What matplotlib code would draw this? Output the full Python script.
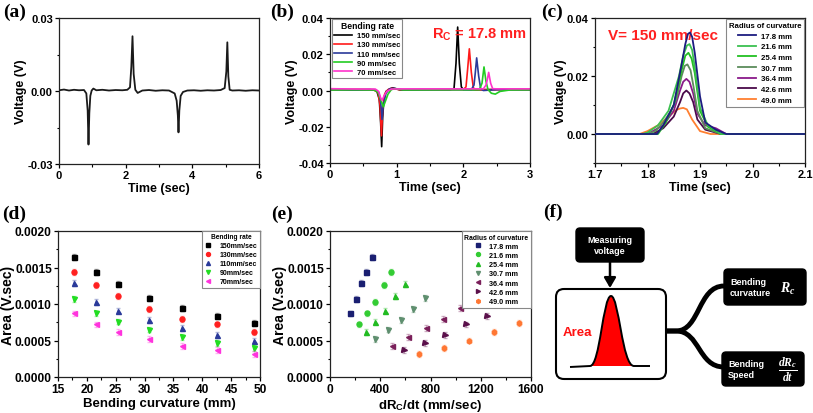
import matplotlib
matplotlib.use("Agg")
import matplotlib.pyplot as plt
from matplotlib.ticker import MultipleLocator, FormatStrFormatter
from matplotlib.patches import FancyBboxPatch, PathPatch
from matplotlib.path import Path

plt.rcParams['font.family'] = ['Liberation Sans', 'DejaVu Sans']
plt.rcParams['font.weight'] = 'bold'
plt.rcParams['mathtext.fontset'] = 'custom'
plt.rcParams['mathtext.rm'] = 'Liberation Sans'
plt.rcParams['mathtext.it'] = 'Liberation Serif:italic'
plt.rcParams['mathtext.bf'] = 'Liberation Sans:bold'

# ---------------- data ----------------
# (a) single voltage trace
ta = [0.00, 0.15, 0.30, 0.45, 0.60, 0.75, 0.82, 0.86, 0.885, 0.91, 0.94, 0.98, 1.03, 1.12, 1.30, 1.50,
      1.70, 1.90, 2.05, 2.13, 2.17, 2.205, 2.24, 2.29, 2.36, 2.50, 2.70, 2.90, 3.10, 3.30, 3.47, 3.53,
      3.565, 3.585, 3.61, 3.65, 3.72, 3.85, 4.05, 4.25, 4.45, 4.65, 4.85, 4.97, 5.02, 5.05, 5.08, 5.12,
      5.20, 5.40, 5.60, 5.80, 6.00]
va = [0.0003, 0.0006, 0.0002, 0.0005, 0.0003, 0.0004, -0.0010, -0.0080, -0.0220, -0.0090, -0.0020, 0.0002,
      0.0010, 0.0003, 0.0005, 0.0002, 0.0004, 0.0003, 0.0005, 0.0015, 0.0100, 0.0225, 0.0070, 0.0005,
      -0.0008, 0.0002, 0.0004, 0.0001, 0.0003, 0.0002, -0.0010, -0.0040, -0.0100, -0.0170, -0.0080,
      -0.0020, -0.0004, 0.0002, 0.0003, 0.0001, 0.0003, 0.0002, 0.0004, 0.0012, 0.0080, 0.0200, 0.0060,
      0.0005, 0.0002, 0.0003, 0.0001, 0.0003, 0.0002]

# (b) bending-rate traces, Rc = 17.8 mm
rates_b = ['150 mm/sec', '130 mm/sec', '110 mm/sec', '90 mm/sec', '70 mm/sec']
tb_150 = [0.00, 0.30, 0.60, 0.70, 0.74, 0.76, 0.775, 0.79, 0.81, 0.84, 0.90, 0.94, 1.05, 1.40, 1.80, 1.86,
          1.89, 1.915, 1.94, 1.97, 2.00, 2.20, 2.60, 3.00]
vb_150 = [0.0006, 0.0004, 0.0005, 0.0000, -0.0050, -0.0180, -0.0310, -0.0150, -0.0040, -0.0005, 0.0010,
          0.0015, 0.0003, 0.0005, 0.0005, 0.0010, 0.0150, 0.0350, 0.0150, 0.0020, 0.0005, 0.0004, 0.0006,
          0.0005]
tb_130 = [0.00, 0.40, 0.65, 0.72, 0.75, 0.772, 0.79, 0.82, 0.87, 0.93, 1.05, 1.60, 2.00, 2.04, 2.065, 2.09,
          2.12, 2.15, 2.18, 2.40, 3.00]
vb_130 = [0.0005, 0.0006, 0.0004, -0.0010, -0.0080, -0.0250, -0.0100, -0.0020, 0.0005, 0.0012, 0.0004,
          0.0005, 0.0005, 0.0020, 0.0120, 0.0230, 0.0100, 0.0015, 0.0005, 0.0005, 0.0005]
tb_110 = [0.00, 0.40, 0.66, 0.73, 0.76, 0.78, 0.80, 0.84, 0.89, 0.95, 1.10, 1.70, 2.12, 2.16, 2.18, 2.20,
          2.23, 2.26, 2.30, 2.50, 3.00]
vb_110 = [0.0005, 0.0004, 0.0005, -0.0010, -0.0060, -0.0160, -0.0080, -0.0015, 0.0008, 0.0012, 0.0004,
          0.0005, 0.0005, 0.0030, 0.0100, 0.0180, 0.0080, 0.0010, 0.0000, 0.0005, 0.0005]
tb_90 = [0.00, 0.40, 0.66, 0.72, 0.76, 0.80, 0.83, 0.87, 0.92, 0.98, 1.10, 1.80, 2.24, 2.28, 2.31, 2.34,
         2.37, 2.42, 2.48, 2.55, 2.70, 3.00]
vb_90 = [0.0003, 0.0004, 0.0003, -0.0010, -0.0050, -0.0090, -0.0060, -0.0020, 0.0005, 0.0010, 0.0003,
         0.0004, 0.0004, 0.0040, 0.0130, 0.0050, 0.0005, -0.0015, -0.0020, -0.0005, 0.0003, 0.0004]
tb_70 = [0.00, 0.40, 0.68, 0.73, 0.76, 0.78, 0.81, 0.85, 0.92, 1.10, 1.90, 2.30, 2.34, 2.36, 2.38, 2.41,
         2.44, 2.50, 3.00]
vb_70 = [0.0010, 0.0008, 0.0008, -0.0005, -0.0040, -0.0055, -0.0030, -0.0005, 0.0008, 0.0009, 0.0009,
         0.0009, 0.0030, 0.0060, 0.0100, 0.0040, 0.0010, 0.0009, 0.0009]

# (c) radius-of-curvature traces, V = 150 mm/sec
radii_c = ['17.8 mm', '21.6 mm', '25.4 mm', '30.7 mm', '36.4 mm', '42.6 mm', '49.0 mm']
tc_178 = [1.70, 1.80, 1.818, 1.83, 1.85, 1.865, 1.872, 1.877, 1.881, 1.885, 1.89, 1.90, 1.91, 1.93, 1.95, 2.10]
vc_178 = [0, 0, 0, 0.003, 0.010, 0.024, 0.031, 0.0345, 0.035, 0.0335, 0.028, 0.013, 0.004, 0.0015, 0, 0]
tc_216 = [1.70, 1.79, 1.80, 1.82, 1.84, 1.86, 1.868, 1.875, 1.880, 1.885, 1.89, 1.90, 1.915, 1.94, 2.10]
vc_216 = [0, 0, 0.0005, 0.003, 0.008, 0.020, 0.027, 0.0305, 0.031, 0.029, 0.023, 0.009, 0.003, 0, 0]
tc_254 = [1.70, 1.81, 1.82, 1.835, 1.85, 1.865, 1.872, 1.878, 1.884, 1.89, 1.90, 1.915, 1.94, 2.10]
vc_254 = [0, 0, 0, 0.004, 0.010, 0.022, 0.027, 0.028, 0.026, 0.021, 0.008, 0.0025, 0, 0]
tc_307 = [1.70, 1.80, 1.815, 1.83, 1.845, 1.855, 1.865, 1.871, 1.876, 1.882, 1.888, 1.895, 1.91, 1.94, 2.10]
vc_307 = [0, 0, 0.001, 0.004, 0.008, 0.012, 0.020, 0.0235, 0.024, 0.022, 0.016, 0.008, 0.002, 0, 0]
tc_364 = [1.70, 1.80, 1.81, 1.83, 1.85, 1.862, 1.868, 1.874, 1.88, 1.887, 1.895, 1.91, 1.93, 1.95, 2.10]
vc_364 = [0, 0, 0.001, 0.003, 0.008, 0.015, 0.018, 0.019, 0.018, 0.014, 0.007, 0.003, 0.002, 0, 0]
tc_426 = [1.70, 1.80, 1.81, 1.83, 1.85, 1.862, 1.868, 1.874, 1.88, 1.887, 1.895, 1.91, 1.94, 2.10]
vc_426 = [0, 0, 0, 0.002, 0.006, 0.011, 0.014, 0.015, 0.014, 0.011, 0.005, 0.0015, 0, 0]
tc_490 = [1.70, 1.785, 1.80, 1.82, 1.84, 1.855, 1.862, 1.868, 1.875, 1.885, 1.90, 1.92, 2.10]
vc_490 = [0, 0, 0.001, 0.003, 0.006, 0.0083, 0.0088, 0.009, 0.0085, 0.005, 0.001, 0, 0]

# (d) area vs bending curvature
curv_d = [17.8, 21.6, 25.4, 30.7, 36.4, 42.6, 49.0]
rates_d = ['150mm/sec', '130mm/sec', '110mm/sec', '90mm/sec', '70mm/sec']
area_150 = [0.00164, 0.00144, 0.00127, 0.00108, 0.000945, 0.00084, 0.000744]
area_130 = [0.00144, 0.00126, 0.00111, 0.00093, 0.00080, 0.00072, 0.00062]
area_110 = [0.00129, 0.00103, 0.00091, 0.00078, 0.00067, 0.00058, 0.00050]
area_90 = [0.00107, 0.00087, 0.00076, 0.00065, 0.00055, 0.00047, 0.00040]
area_70 = [0.00087, 0.00072, 0.00062, 0.00052, 0.00042, 0.00037, 0.00031]
area_err = 0.00004

# (e) area vs bending speed, one series per radius (rates 70..150 mm/sec)
radii_e = ['17.8 mm', '21.6 mm', '25.4 mm', '30.7 mm', '36.4 mm', '42.6 mm', '49.0 mm']
speed_178 = [160, 205, 247, 289, 334]
speed_216 = [234, 297, 358, 427, 488]
speed_254 = [284, 361, 440, 518, 597]
speed_307 = [361, 462, 563, 661, 759]
speed_364 = [491, 624, 762, 897, 1035]
speed_426 = [589, 754, 918, 1083, 1247]
speed_490 = [709, 908, 1107, 1306, 1502]

# ---------------- figure ----------------
W, H = 813, 414
fig = plt.figure(figsize=(W / 100, H / 100), dpi=100)


def axpx(l, t, r, b):
    return fig.add_axes([l / W, 1 - b / H, (r - l) / W, (b - t) / H])


def style(ax, tsize):
    for s in ax.spines.values():
        s.set_linewidth(0.9)
        s.set_color('#222222')
    ax.tick_params(which='major', direction='out', length=3, width=0.9, labelsize=tsize,
                   top=False, right=False, pad=1.5)
    ax.tick_params(which='minor', direction='out', length=1.8, width=0.8, top=False, right=False)
    for lab in ax.get_xticklabels() + ax.get_yticklabels():
        lab.set_fontweight('bold')


def plabel(x, y, s):
    fig.text(x / W, 1 - y / H, s, ha='left', va='top', family='Liberation Serif',
             weight='bold', size=14)


# ---- (a)
ax = axpx(59, 19, 259, 165)
ax.plot(ta, va, color='#1a1a1a', lw=1.3)
ax.set_xlim(0, 6)
ax.set_ylim(-0.03, 0.03)
ax.xaxis.set_major_locator(MultipleLocator(2))
ax.xaxis.set_minor_locator(MultipleLocator(1))
ax.yaxis.set_major_locator(MultipleLocator(0.03))
ax.yaxis.set_minor_locator(MultipleLocator(0.015))
ax.yaxis.set_major_formatter(FormatStrFormatter('%.2f'))
style(ax, 8)
ax.set_xlabel('Time (sec)', size=9, weight='bold', labelpad=1)
ax.set_ylabel('Voltage (V)', size=9, weight='bold', labelpad=0)
plabel(3, 4, '(a)')

# ---- (b)
ax = axpx(330, 19, 530, 164)
cols_b = ['#000000', '#ff1a1a', '#2b3a9a', '#22cc22', '#ff33cc']
for t, v, c, lab in zip([tb_150, tb_130, tb_110, tb_90, tb_70],
                        [vb_150, vb_130, vb_110, vb_90, vb_70], cols_b, rates_b):
    ax.plot(t, v, color=c, lw=1.2, label=lab)
ax.set_xlim(0, 3)
ax.set_ylim(-0.04, 0.04)
ax.xaxis.set_major_locator(MultipleLocator(1))
ax.xaxis.set_minor_locator(MultipleLocator(0.5))
ax.yaxis.set_major_locator(MultipleLocator(0.02))
ax.yaxis.set_minor_locator(MultipleLocator(0.01))
ax.yaxis.set_major_formatter(FormatStrFormatter('%.2f'))
style(ax, 8)
ax.set_xlabel('Time (sec)', size=9, weight='bold', labelpad=1)
ax.set_ylabel('Voltage (V)', size=9, weight='bold', labelpad=0)
lg = ax.legend(title='Bending rate', loc='upper left', fontsize=5.5, title_fontsize=6.2,
               handlelength=2.3, handletextpad=0.6, labelspacing=0.22, borderaxespad=0.15,
               borderpad=0.3, fancybox=False, framealpha=1, edgecolor='#888888',
               bbox_to_anchor=(0.005, 1.0))
lg.get_frame().set_linewidth(0.8)
lg.get_title().set_fontweight('bold')
for tx in lg.get_texts():
    tx.set_fontweight('bold')
ax.text(0.51, 0.89, r'R$_\mathbf{C}$ = 17.8 mm', transform=ax.transAxes, color='#ff2020',
        size=10.5, weight='bold', ha='left', va='center')
plabel(270, 4, '(b)')

# ---- (c)
ax = axpx(595, 19, 805, 164)
cols_c = ['#1c1c80', '#3cc050', '#22c022', '#5c8c5c', '#8a1a8a', '#4a0a4a', '#ff7f30']
traces_c = [(tc_178, vc_178), (tc_216, vc_216), (tc_254, vc_254), (tc_307, vc_307),
            (tc_364, vc_364), (tc_426, vc_426), (tc_490, vc_490)]
for i, ((t, v), c, lab) in enumerate(zip(traces_c, cols_c, radii_c)):
    ax.plot(t, v, color=c, lw=1.3, label=lab, zorder=10 - i)
ax.set_xlim(1.7, 2.1)
ax.set_ylim(-0.01, 0.04)
ax.xaxis.set_major_locator(MultipleLocator(0.1))
ax.xaxis.set_minor_locator(MultipleLocator(0.05))
ax.set_yticks([0.0, 0.02, 0.04])
ax.yaxis.set_minor_locator(MultipleLocator(0.01))
ax.yaxis.set_major_formatter(FormatStrFormatter('%.2f'))
ax.xaxis.set_major_formatter(FormatStrFormatter('%.1f'))
style(ax, 8)
ax.set_xlabel('Time (sec)', size=9, weight='bold', labelpad=1)
ax.set_ylabel('Voltage (V)', size=9, weight='bold', labelpad=0)
lg = ax.legend(title='Radius of curvature', loc='upper right', fontsize=5.6, title_fontsize=5.6,
               handlelength=2.4, handletextpad=0.6, labelspacing=0.42, borderaxespad=0.15,
               borderpad=0.35, fancybox=False, framealpha=1, edgecolor='#888888')
lg.get_frame().set_linewidth(0.8)
lg.get_title().set_fontweight('bold')
for tx in lg.get_texts():
    tx.set_fontweight('bold')
ax.text(0.06, 0.88, 'V= 150 mm/sec', transform=ax.transAxes, color='#ff2020',
        size=11, weight='bold', ha='left', va='center')
plabel(541, 4, '(c)')

# ---- (d)
ax = axpx(58, 232, 260, 378)
cols_d = ['#000000', '#ff2020', '#2a3a9a', '#22dd22', '#ff33dd']
marks_d = ['s', 'o', '^', 'v', '<']
for y, c, m, lab in zip([area_150, area_130, area_110, area_90, area_70], cols_d, marks_d, rates_d):
    ax.errorbar(curv_d, y, yerr=area_err, fmt='none', ecolor=c, elinewidth=0.6, alpha=0.35, capsize=1.2)
    ax.plot(curv_d, y, ls='none', marker=m, ms=3.6, color=c, label=lab)
ax.set_xlim(15, 50)
ax.set_ylim(0, 0.002)
ax.xaxis.set_major_locator(MultipleLocator(5))
ax.xaxis.set_minor_locator(MultipleLocator(2.5))
ax.yaxis.set_major_locator(MultipleLocator(0.0005))
ax.yaxis.set_minor_locator(MultipleLocator(0.00025))
ax.yaxis.set_major_formatter(FormatStrFormatter('%.4f'))
style(ax, 8.6)
ax.set_xlabel('Bending curvature (mm)', size=9.5, weight='bold', labelpad=1)
ax.set_ylabel('Area (V.sec)', size=10, weight='bold', labelpad=0)
lg = ax.legend(title='Bending rate', loc='upper right', fontsize=5, title_fontsize=4.8,
               handlelength=1.0, handletextpad=1.2, labelspacing=0.28, borderaxespad=0.0,
               borderpad=0.35, fancybox=False, framealpha=1, edgecolor='#888888',
               markerscale=0.8)
lg.get_frame().set_linewidth(0.8)
lg.get_title().set_fontweight('bold')
for tx in lg.get_texts():
    tx.set_fontweight('bold')
plabel(2, 206, '(d)')

# ---- (e)
ax = axpx(330, 232, 531, 378)
cols_e = ['#1a1f71', '#33cc33', '#22bb22', '#5f8f6f', '#7a1f5a', '#5a0f4a', '#ff7733']
marks_e = ['s', 'o', '^', 'v', '<', '>', 'h']
speeds = [speed_178, speed_216, speed_254, speed_307, speed_364, speed_426, speed_490]
areas_by_rate = [area_70, area_90, area_110, area_130, area_150]
for i, (sp, c, m, lab) in enumerate(zip(speeds, cols_e, marks_e, radii_e)):
    y = [a[i] for a in areas_by_rate]
    ax.errorbar(sp, y, yerr=area_err, fmt='none', ecolor=c, elinewidth=0.6, alpha=0.35, capsize=1.2)
    ax.plot(sp, y, ls='none', marker=m, ms=3.6, color=c, label=lab)
ax.set_xlim(0, 1600)
ax.set_ylim(0, 0.002)
ax.xaxis.set_major_locator(MultipleLocator(400))
ax.xaxis.set_minor_locator(MultipleLocator(200))
ax.yaxis.set_major_locator(MultipleLocator(0.0005))
ax.yaxis.set_minor_locator(MultipleLocator(0.00025))
ax.yaxis.set_major_formatter(FormatStrFormatter('%.4f'))
style(ax, 8.6)
ax.set_xlabel(r'dR$_\mathbf{C}$/dt (mm/sec)', size=9.5, weight='bold', labelpad=1)
ax.set_ylabel('Area (V.sec)', size=10, weight='bold', labelpad=0)
lg = ax.legend(title='Radius of curvature', loc='upper right', fontsize=5.2, title_fontsize=4.9,
               handlelength=1.0, handletextpad=1.0, labelspacing=0.3, borderaxespad=0.0,
               borderpad=0.35, fancybox=False, framealpha=1, edgecolor='#888888',
               markerscale=0.8)
lg.get_frame().set_linewidth(0.8)
lg.get_title().set_fontweight('bold')
for tx in lg.get_texts():
    tx.set_fontweight('bold')
plabel(271, 206, '(e)')

# ---- (f) schematic
ax = axpx(540, 200, 813, 414)
ax.set_xlim(540, 813)
ax.set_ylim(414, 200)
ax.axis('off')
plabel(543, 204, '(f)')


def rbox(x0, y0, x1, y1, fc, ec, lw, r):
    p = FancyBboxPatch((x0 + r, y0 + r), (x1 - x0) - 2 * r, (y1 - y0) - 2 * r,
                       boxstyle=f'round,pad={r}', fc=fc, ec=ec, lw=lw)
    ax.add_patch(p)


rbox(576, 229, 644, 263, 'black', 'black', 1, 4)
ax.text(610, 246, 'Measuring\nvoltage', color='white', ha='center', va='center', size=6.5,
        weight='bold', linespacing=1.15)
ax.annotate('', xy=(610, 289), xytext=(610, 263),
            arrowprops=dict(arrowstyle='-|>,head_length=0.6,head_width=0.35', color='black', lw=1.8,
                            shrinkA=0, shrinkB=0))
rbox(556, 290, 666, 380, 'white', 'black', 1.5, 8)

# bell-shaped area glyph
verts = [(570, 368), (590, 367), (600, 367), (603, 297), (611, 297), (619, 297), (622, 367),
         (634, 367), (650, 367)]
codes = [Path.MOVETO, Path.LINETO, Path.CURVE4, Path.CURVE4, Path.CURVE4, Path.CURVE4, Path.CURVE4,
         Path.CURVE4, Path.LINETO]
fill_v = [(590, 367), (600, 367), (603, 297), (611, 297), (619, 297), (622, 367), (634, 367),
          (590, 367)]
fill_c = [Path.MOVETO, Path.CURVE4, Path.CURVE4, Path.CURVE4, Path.CURVE4, Path.CURVE4, Path.CURVE4,
          Path.CLOSEPOLY]
ax.add_patch(PathPatch(Path(fill_v, fill_c), fc='#ff0000', ec='none'))
ax.add_patch(PathPatch(Path(verts, codes), fc='none', ec='black', lw=1.4))
ax.text(577, 333, 'Area', color='#ff1010', ha='center', va='center', size=9.5, weight='bold')

# branches
for yend in (287, 368):
    bv = [(666, 332), (676, 332), (700, 332), (698, yend), (724, yend)]
    bc = [Path.MOVETO, Path.LINETO, Path.CURVE4, Path.CURVE4, Path.CURVE4]
    ax.add_patch(PathPatch(Path(bv, bc), fc='none', ec='black', lw=3.5, capstyle='butt'))

rbox(724, 270, 806, 306, 'black', 'black', 1, 4)
ax.text(730, 288, 'Bending\ncurvature', color='white', ha='left', va='center', size=6.5,
        weight='bold', linespacing=1.2)
ax.text(788, 289, r'$R_c$', color='white', ha='center', va='center', size=10)

rbox(722, 353, 804, 387, 'black', 'black', 1, 4)
ax.text(728, 370, 'Bending\nSpeed', color='white', ha='left', va='center', size=6.5,
        weight='bold', linespacing=1.2)
ax.text(788, 370, r'$\frac{dR_c}{dt}$', color='white', ha='center', va='center', size=12)

fig.savefig('out.png', dpi=100)
